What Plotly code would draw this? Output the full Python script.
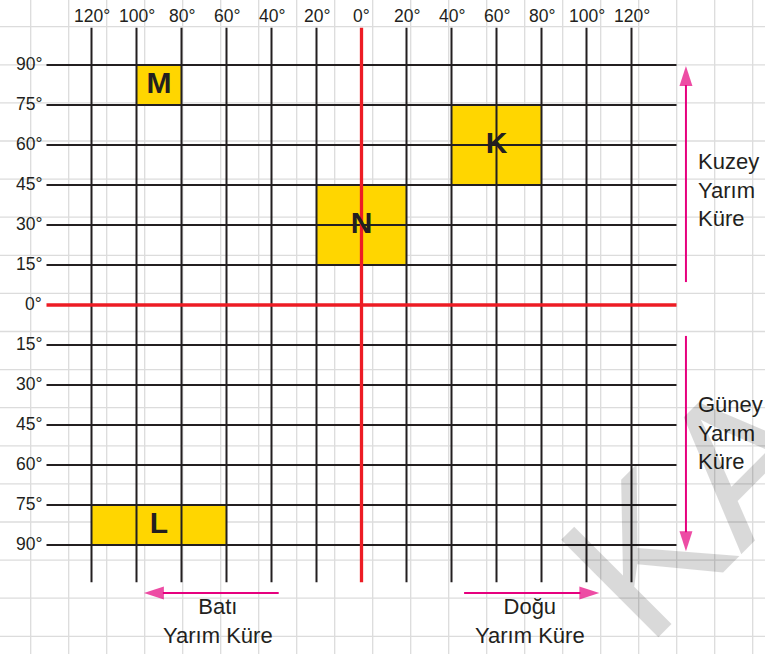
import plotly.graph_objects as go

# ---------------- data ----------------
LONGITUDES = [-120, -100, -80, -60, -40, -20, 0, 20, 40, 60, 80, 100, 120]
LON_LABELS = ["120°", "100°", "80°", "60°", "40°", "20°", "0°", "20°", "40°", "60°", "80°", "100°", "120°"]
LATITUDES = [90, 75, 60, 45, 30, 15, 0, -15, -30, -45, -60, -75, -90]
LAT_LABELS = ["90°", "75°", "60°", "45°", "30°", "15°", "0°", "15°", "30°", "45°", "60°", "75°", "90°"]

REGION_NAMES = ["M", "K", "N", "L"]
REGION_LON_MIN = [-100, 40, -20, -120]
REGION_LON_MAX = [-80, 80, 20, -60]
REGION_LAT_MIN = [75, 45, 15, -90]
REGION_LAT_MAX = [90, 75, 45, -75]

# ---------------- styling ----------------
W, H = 765, 654
X_RANGE = [-160.667, 179.333]
Y_RANGE = [-130.875, 114.375]
LINE_EXT_LON = 140
LINE_EXT_LAT = 104
BLACK = "#231f20"
RED = "#ed1c24"
YELLOW = "#ffd600"
PINK = "#e6007e"
FONT = "Liberation Sans, Arial, sans-serif"

fig = go.Figure()

# background graph paper (decorative texture)
shapes = []
for k in range(20):
    px = 30.7 + 38 * k
    shapes.append(dict(type="line", xref="paper", yref="paper", x0=px / W, x1=px / W, y0=0, y1=1,
                       line=dict(color="#dcdcdc", width=1.3), layer="below"))
for k in range(17):
    py = 26.7 + 38.1 * k
    shapes.append(dict(type="line", xref="paper", yref="paper", y0=1 - py / H, y1=1 - py / H, x0=0, x1=1,
                       line=dict(color="#dcdcdc", width=1.3), layer="below"))

# yellow regions
for name, x0, x1, y0, y1 in zip(REGION_NAMES, REGION_LON_MIN, REGION_LON_MAX, REGION_LAT_MIN, REGION_LAT_MAX):
    fig.add_trace(go.Scatter(x=[x0, x1, x1, x0, x0], y=[y0, y0, y1, y1, y0], mode="lines",
                             fill="toself", fillcolor=YELLOW, line=dict(width=0),
                             hoverinfo="skip", showlegend=False))

# black grid lines
vx, vy = [], []
for lon in LONGITUDES:
    if lon == 0:
        continue
    vx += [lon, lon, None]
    vy += [-LINE_EXT_LAT, LINE_EXT_LAT, None]
hx, hy = [], []
for lat in LATITUDES:
    if lat == 0:
        continue
    hx += [-LINE_EXT_LON, LINE_EXT_LON, None]
    hy += [lat, lat, None]
fig.add_trace(go.Scatter(x=vx + hx, y=vy + hy, mode="lines", line=dict(color=BLACK, width=2),
                         hoverinfo="skip", showlegend=False))
# red equator & prime meridian
fig.add_trace(go.Scatter(x=[-LINE_EXT_LON, LINE_EXT_LON, None, 0, 0],
                         y=[0, 0, None, -LINE_EXT_LAT, LINE_EXT_LAT], mode="lines",
                         line=dict(color=RED, width=3.3), hoverinfo="skip", showlegend=False))

# region letters
fig.add_trace(go.Scatter(
    x=[(a + b) / 2 for a, b in zip(REGION_LON_MIN, REGION_LON_MAX)],
    y=[(a + b) / 2 for a, b in zip(REGION_LAT_MIN, REGION_LAT_MAX)],
    mode="text", text=[f"<b>{n}</b>" for n in REGION_NAMES],
    textposition="middle center", textfont=dict(family=FONT, size=30, color=BLACK),
    hoverinfo="skip", showlegend=False))

# hemisphere arrows (tail -> tip)
ARROWS = [((144.2, 8.6), (144.2, 89.6)),
          ((144.2, -11.6), (144.2, -92.3)),
          ((-36.8, -108.0), (-96.7, -108.0)),
          ((45.6, -108.0), (105.7, -108.0))]
for (tx, ty), (hx_, hy_) in ARROWS:
    fig.add_trace(go.Scatter(x=[tx, hx_], y=[ty, hy_], mode="lines+markers",
                             line=dict(color=PINK, width=2),
                             marker=dict(symbol=["circle", "arrow"], size=[0, 21], angleref="previous",
                                         color=PINK, line=dict(width=0)),
                             hoverinfo="skip", showlegend=False))

annotations = []
# tick labels
for lon, lab in zip(LONGITUDES, LON_LABELS):
    annotations.append(dict(x=lon, y=108.4, xref="x", yref="y", text=lab, showarrow=False,
                            xanchor="center", yanchor="middle",
                            font=dict(family=FONT, size=17.5, color=BLACK)))
for lat, lab in zip(LATITUDES, LAT_LABELS):
    annotations.append(dict(x=-141, y=lat + 0.5, xref="x", yref="y", text=lab, showarrow=False,
                            xanchor="right", yanchor="middle",
                            font=dict(family=FONT, size=17.5, color=BLACK)))

side_font = dict(family=FONT, size=22, color=BLACK)
annotations += [
    dict(x=148.7, y=43.1, xref="x", yref="y", text="Kuzey<br>Yarım<br>Küre", showarrow=False,
         xanchor="left", yanchor="middle", align="left", font=side_font),
    dict(x=148.7, y=-48.0, xref="x", yref="y", text="Güney<br>Yarım<br>Küre", showarrow=False,
         xanchor="left", yanchor="middle", align="left", font=side_font),
    dict(x=-64.0, y=-118.4, xref="x", yref="y", text="Batı<br>Yarım Küre", showarrow=False,
         xanchor="center", yanchor="middle", align="center", font=side_font),
    dict(x=74.9, y=-118.4, xref="x", yref="y", text="Doğu<br>Yarım Küre", showarrow=False,
         xanchor="center", yanchor="middle", align="center", font=side_font),
]

# watermark
annotations.append(dict(x=692 / W, y=1 - 506 / H, xref="paper", yref="paper", text="KA", showarrow=False,
                        textangle=-45, xanchor="center", yanchor="middle",
                        font=dict(family=FONT, size=200, color="rgba(0,0,0,0.15)")))

fig.update_layout(
    width=W, height=H, margin=dict(l=0, r=0, t=0, b=0),
    paper_bgcolor="white", plot_bgcolor="white",
    xaxis=dict(range=X_RANGE, visible=False, fixedrange=True),
    yaxis=dict(range=Y_RANGE, visible=False, fixedrange=True),
    shapes=shapes, annotations=annotations, showlegend=False,
)

fig.write_html("out.html", config={"displayModeBar": False},
               post_script="document.body.style.margin='0';document.body.style.overflow='hidden';")
